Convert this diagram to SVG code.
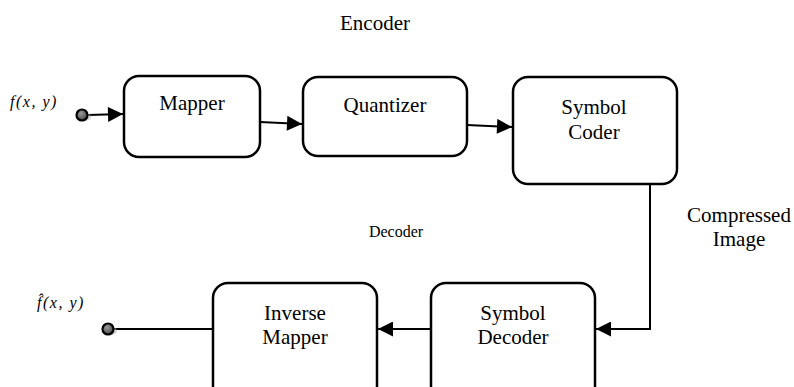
<svg xmlns="http://www.w3.org/2000/svg" width="794" height="387" viewBox="0 0 794 387">
<style>
.box{fill:#fff;stroke:#000;stroke-width:2.5}
.t{font-family:'Liberation Serif','Times New Roman','DejaVu Serif',serif;font-size:21px;fill:#000;text-anchor:middle}
.s{font-size:16px}
.m{font-family:'Liberation Serif','Times New Roman','DejaVu Serif',serif;font-style:italic;font-size:16px;letter-spacing:1.5px;fill:#000}
.c{fill:none;stroke:#000;stroke-width:2}
.dot{fill:url(#g);stroke:#000;stroke-width:2.2}
</style>
<defs>
<marker id="ah" viewBox="0 0 10 10" refX="10" refY="5" markerWidth="8" markerHeight="7.5" orient="auto" markerUnits="strokeWidth">
<path d="M0,0 L10,5 L0,10 Z" fill="#000"/>
</marker>
<radialGradient id="g" cx="40%" cy="35%" r="65%">
<stop offset="0" stop-color="#9a9a9a"/>
<stop offset="1" stop-color="#4a4a4a"/>
</radialGradient>
</defs>
<text class="t" x="375" y="30">Encoder</text>
<text class="t s" x="396" y="237">Decoder</text>
<text class="t" x="739" y="222">Compressed</text>
<text class="t" x="739" y="246">Image</text>
<g id="connectors">
<line class="c" x1="88" y1="115" x2="123" y2="114" marker-end="url(#ah)"/>
<line class="c" x1="260" y1="122" x2="302" y2="124" marker-end="url(#ah)"/>
<line class="c" x1="467" y1="125" x2="512" y2="127" marker-end="url(#ah)"/>
<polyline class="c" points="650,184 650,329 596,329" marker-end="url(#ah)"/>
<line class="c" x1="431" y1="329" x2="378" y2="329" marker-end="url(#ah)"/>
<line class="c" x1="114" y1="329" x2="213" y2="329"/>
</g>
<g id="input">
<text class="m" x="10" y="107">f(x, y)</text>
<ellipse cx="85" cy="117" rx="6" ry="4" fill="#bbb" opacity="0.6"/>
<circle class="dot" cx="82" cy="115" r="5.5"/>
</g>
<g id="mapper">
<rect class="box" x="124" y="76" width="136" height="81" rx="15"/>
<text class="t" x="192" y="110">Mapper</text>
</g>
<g id="quantizer">
<rect class="box" x="303" y="77" width="164" height="79" rx="15"/>
<text class="t" x="385" y="112">Quantizer</text>
</g>
<g id="symbol-coder">
<rect class="box" x="513" y="77" width="164" height="107" rx="15"/>
<text class="t" x="594" y="114">Symbol</text>
<text class="t" x="594" y="139">Coder</text>
</g>
<g id="symbol-decoder">
<rect class="box" x="431" y="283" width="164" height="120" rx="15"/>
<text class="t" x="513" y="320">Symbol</text>
<text class="t" x="513" y="344">Decoder</text>
</g>
<g id="inverse-mapper">
<rect class="box" x="213" y="283" width="164" height="120" rx="15"/>
<text class="t" x="295" y="320">Inverse</text>
<text class="t" x="295" y="344">Mapper</text>
</g>
<g id="output">
<text class="m" x="37" y="308">f̂(x, y)</text>
<ellipse cx="111" cy="331" rx="6" ry="4" fill="#bbb" opacity="0.6"/>
<circle class="dot" cx="108" cy="329" r="5.5"/>
</g>
</svg>
